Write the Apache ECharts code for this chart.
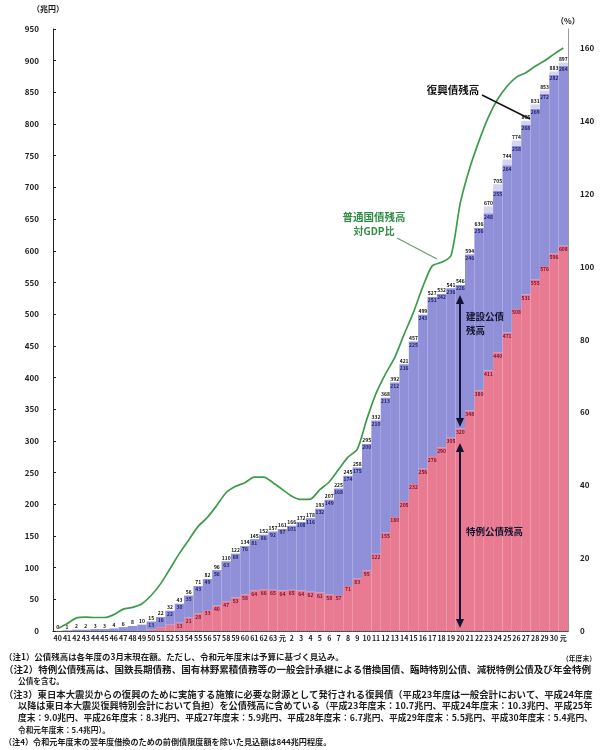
<!DOCTYPE html>
<html>
<head>
<meta charset="utf-8">
<script src="https://cdn.jsdelivr.net/npm/echarts@6.0.0/dist/echarts.min.js"></script>
<style>
html,body{margin:0;padding:0;background:#fff;}
#chart{width:603px;height:750px;}
</style>
</head>
<body>
<div id="chart"></div>
<script>
// 年度末（昭和40年度〜令和元年度）
const categories = ['40','41','42','43','44','45','46','47','48','49','50','51','52','53','54','55','56','57','58','59','60','61','62','63',
  '元','2','3','4','5','6','7','8','9','10','11','12','13','14','15','16','17','18','19','20','21','22','23','24','25','26','27','28','29','30','元'];

// 特例公債残高（兆円）
const tokurei = [0,0,0,0,0,0,0,0,0,0, 2,6,10,13,21,28,33,40,47,53, 58,64,66,65,
  64,65,64,62,61,58,57,71,83, 95,122,155,180,205,232,256,
  276,290,305,320,348,380,411,440,471,508,531,555,576,596,608];

// 建設公債残高（兆円）
const kensetsu = [0.2,1,2,2,3,3,4,6,8,10, 13,16,22,30,35,43,49,56,63,69, 76,81,86,92,
  97,101,108,116,132,149,168,174,175, 200,210,213,212,216,225,243,
  251,242,236,226,246,256,248.3,254.7,264,257.7,268.1,269.3,271.5,281.6,283.6];

// 復興債残高（兆円）
const fukko = [0,0,0,0,0,0,0,0,0,0, 0,0,0,0,0,0,0,0,0,0, 0,0,0,0,
  0,0,0,0,0,0,0,0,0, 0,0,0,0,0,0,0,
  0,0,0,0,0,0,10.7,10.3,9.0,8.3,5.9,6.7,5.5,5.4,5.4];

// 普通国債残高対GDP比（%）
const gdpRatio = [0.7,2.0,3.6,3.8,3.7,3.7,4.5,6.0,6.5,7.5, 9.8,13.0,17.1,21.3,25.0,28.7,31.2,34.5,38.0,39.7,
  40.7,42.2,42.2,40.7, 38.8,37.0,36.1,36.2,38.8,40.9,44.3,47.7,49.9,
  58.0,65.2,70.5,75.1,81.4,87.5,94.5,
  100.2,101.2,103.0,117.5,127.0,134.5,141.0,146.0,149.5,152.0,153.2,155.0,156.5,158.3,160.0];

const leftTicks = {min: 0, max: 950, interval: 50};
const rightTicks = {min: 0, max: 165.2, interval: 20};

const notes = [
  {t: '（注1）公債残高は各年度の3月末現在額。ただし、令和元年度末は予算に基づく見込み。', x: 4, y: 657, w: 340},
  {t: '（年度末）', x: 562, y: 658, w: 34},
  {t: '（注2）特例公債残高は、国鉄長期債務、国有林野累積債務等の一般会計承継による借換国債、臨時特別公債、減税特例公債及び年金特例', x: 4, y: 669, w: 588},
  {t: '公債を含む。', x: 18, y: 681, w: 46},
  {t: '（注3）東日本大震災からの復興のために実施する施策に必要な財源として発行される復興債（平成23年度は一般会計において、平成24年度', x: 4, y: 694, w: 589},
  {t: '以降は東日本大震災復興特別会計において負担）を公債残高に含めている（平成23年度末：10.7兆円、平成24年度末：10.3兆円、平成25年', x: 18, y: 706, w: 575},
  {t: '度末：9.0兆円、平成26年度末：8.3兆円、平成27年度末：5.9兆円、平成28年度末：6.7兆円、平成29年度末：5.5兆円、平成30年度末：5.4兆円、', x: 18, y: 718, w: 575},
  {t: '令和元年度末：5.4兆円）。', x: 18, y: 730, w: 92},
  {t: '（注4）令和元年度末の翌年度借換のための前倒債限度額を除いた見込額は844兆円程度。', x: 4, y: 742, w: 328}
];

const FONT = '"Noto Sans CJK JP", "Noto Sans", sans-serif';
const measureCtx = document.createElement('canvas').getContext('2d');
function fitSize(str, width, weight) {
  measureCtx.font = weight + ' 10px ' + FONT;
  return 10 * width / measureCtx.measureText(str).width;
}

function textEl(str, x, y, size, color, align, weight) {
  return {
    type: 'text', x: x, y: y, silent: true, z: 100,
    style: {text: str, fontSize: size, fontFamily: FONT, fontWeight: weight || 'bold',
      fill: color || '#1a1a1a', align: align || 'left', verticalAlign: 'middle'}
  };
}

function doubleArrow(x, y1, y2, color) {
  const hw = 4, hh = 9;
  return [
    {type: 'line', silent: true, z: 100, shape: {x1: x, y1: y1 + hh - 1, x2: x, y2: y2 - hh + 1}, style: {stroke: color, lineWidth: 2}},
    {type: 'polygon', silent: true, z: 100, shape: {points: [[x, y1], [x - hw, y1 + hh], [x + hw, y1 + hh]]}, style: {fill: color}},
    {type: 'polygon', silent: true, z: 100, shape: {points: [[x, y2], [x - hw, y2 - hh], [x + hw, y2 - hh]]}, style: {fill: color}}
  ];
}

const graphics = [
  textEl('（兆円）', 32, 9, 8),
  textEl('（%）', 556, 21, 8),
  textEl('普通国債残高', 374, 217, 10.5, '#2f8c43', 'center'),
  textEl('対GDP比', 374, 231, 10, '#2f8c43', 'center'),
  {type: 'line', silent: true, z: 100, shape: {x1: 397, y1: 238, x2: 437, y2: 259}, style: {stroke: '#6f9a78', lineWidth: 1.3}},
  textEl('復興債残高', 453, 90, 10.5, '#111', 'center'),
  {type: 'line', silent: true, z: 100, shape: {x1: 482, y1: 95, x2: 530, y2: 119}, style: {stroke: '#111', lineWidth: 1.5}},
  textEl('建設公債', 466, 316, 9.5, '#151530'),
  textEl('残高', 466, 330, 9.5, '#151530'),
  textEl('特例公債残高', 466, 531, 9.5, '#151530')
].concat(doubleArrow(460, 295, 427, '#141432'), doubleArrow(460, 443, 628, '#141432'));

notes.forEach(n => {
  graphics.push(textEl(n.t, n.x, n.y, fitSize(n.t, n.w, 'bold'), '#1e1e1e', 'left', 'bold'));
});

const smallLabel = {fontSize: 5, fontWeight: 'bold', fontFamily: FONT};
const lastIdx = gdpRatio.length - 1;

const option = {
  animation: false,
  backgroundColor: '#ffffff',
  grid: {left: 53, right: 35, top: 29, bottom: 119, containLabel: false},
  xAxis: [
    {
      type: 'category', data: categories, position: 'bottom',
      axisLine: {show: true, lineStyle: {color: '#444', width: 1, type: 'dotted'}},
      axisTick: {show: false},
      axisLabel: {interval: 0, fontSize: 7, fontWeight: 'bold', fontFamily: FONT, color: '#222', margin: 4}
    },
    {
      type: 'category', data: categories, position: 'top',
      axisLine: {show: true, lineStyle: {color: '#444', width: 1, type: 'dotted'}},
      axisTick: {show: false}, axisLabel: {show: false}
    }
  ],
  yAxis: [
    {
      type: 'value', min: leftTicks.min, max: leftTicks.max, interval: leftTicks.interval,
      axisLine: {show: true, lineStyle: {color: '#222', width: 1}},
      axisTick: {show: true, inside: true, length: 3, lineStyle: {color: '#222'}},
      splitLine: {show: false},
      axisLabel: {fontSize: 8, fontWeight: 'bold', fontFamily: FONT, color: '#222', margin: 14}
    },
    {
      type: 'value', position: 'right', min: rightTicks.min, max: rightTicks.max, interval: rightTicks.interval,
      axisLine: {show: true, lineStyle: {color: '#999', width: 1}},
      axisTick: {show: false},
      splitLine: {show: false},
      axisLabel: {fontSize: 8, fontWeight: 'bold', fontFamily: FONT, color: '#222', margin: 12,
        showMaxLabel: false, formatter: v => (v % 20 === 0 ? String(v) : '')}
    }
  ],
  series: [
    {
      name: '特例公債残高', type: 'bar', stack: 'debt', data: tokurei,
      barCategoryGap: '0%', barGap: '0%',
      itemStyle: {color: '#e87b92'},
      label: Object.assign({show: true, position: 'insideTop', distance: 1, color: '#7d1030',
        formatter: p => (p.value >= 12 ? String(Math.round(p.value)) : '')}, smallLabel)
    },
    {
      name: '建設公債残高', type: 'bar', stack: 'debt', data: kensetsu,
      barCategoryGap: '0%', barGap: '0%',
      itemStyle: {color: '#8f90d8'},
      label: Object.assign({show: true, position: 'insideTop', distance: 1, color: '#22226e',
        formatter: p => (p.value >= 12 ? String(Math.round(p.value)) : '')}, smallLabel)
    },
    {
      name: '復興債残高', type: 'bar', stack: 'debt', data: fukko,
      barCategoryGap: '0%', barGap: '0%',
      itemStyle: {color: '#d4d4f2'},
      label: Object.assign({show: true, position: 'top', distance: 1, color: '#111',
        formatter: p => String(Math.round(tokurei[p.dataIndex] + kensetsu[p.dataIndex] + fukko[p.dataIndex]))}, smallLabel)
    },
    {
      name: '普通国債残高対GDP比', type: 'line', yAxisIndex: 1,
      data: gdpRatio.map((v, i) => i === lastIdx
        ? {value: v, label: {show: true, position: 'right', distance: 2, offset: [0, -8], formatter: '{c}%', fontSize: 5, color: '#2f8c43'}}
        : v),
      symbol: 'none', smooth: 0.25,
      lineStyle: {color: '#3c9c4c', width: 1.7},
      z: 5
    }
  ],
  graphic: graphics
};

const chart = echarts.init(document.getElementById('chart'), null, {renderer: 'canvas'});
chart.setOption(option);
</script>
</body>
</html>
